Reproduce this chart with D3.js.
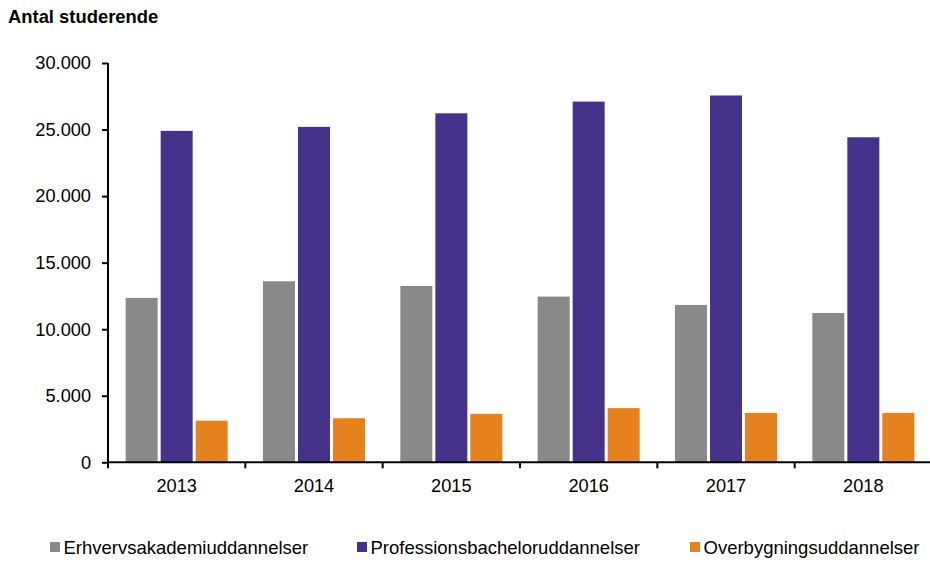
<!DOCTYPE html>
<html><head><meta charset="utf-8">
<script src="https://cdn.jsdelivr.net/npm/d3@7"></script>
<style>body{margin:0;background:#fff;} svg{display:block;font-family:"Liberation Sans",Arial,sans-serif;}</style>
</head><body>
<script>
const years = ["2013","2014","2015","2016","2017","2018"];
const seriesNames = ["Erhvervsakademiuddannelser","Professionsbacheloruddannelser","Overbygningsuddannelser"];
const erhverv = [12350, 13600, 13250, 12450, 11820, 11220];
const profession = [24900, 25200, 26220, 27100, 27560, 24420];
const overbygning = [3130, 3310, 3640, 4070, 3710, 3710];
const colors = ["#898989", "#46328a", "#e6821e"];
const yTicks = [0, 5000, 10000, 15000, 20000, 25000, 30000];
const yTickLabels = ["0", "5.000", "10.000", "15.000", "20.000", "25.000", "30.000"];
const title = "Antal studerende";

const W = 930, H = 563;
const svg = d3.select("body").append("svg").attr("width", W).attr("height", H);

const x0 = d3.scaleBand().domain(years).range([108, 932]).paddingInner(0).paddingOuter(0);
const x1 = d3.scaleBand().domain(seriesNames).range([0, x0.step()]).paddingInner(0).paddingOuter(0.462);
const y = d3.scaleLinear().domain([0, 30000]).range([462.3, 63]);

const seriesData = [erhverv, profession, overbygning];

// bars
seriesNames.forEach((s, si) => {
  svg.append("g").selectAll("rect").data(years).join("rect")
    .attr("x", d => x0(d) + x1(s) + 1.5)
    .attr("width", x1.bandwidth() - 3)
    .attr("y", (d, i) => y(seriesData[si][i]))
    .attr("height", (d, i) => y(0) - y(seriesData[si][i]))
    .attr("fill", colors[si]);
});

// y axis
const yAxis = d3.axisLeft(y).tickValues(yTicks).tickSize(6).tickPadding(11)
  .tickFormat((d, i) => yTickLabels[i]);
const gy = svg.append("g").attr("transform", "translate(108,0)").call(yAxis);
gy.select(".domain").attr("stroke", "#000").attr("stroke-width", 2).attr("d", `M0,${y(30000)}V${y(0)}`);
gy.selectAll(".tick line").attr("stroke", "#000").attr("stroke-width", 2);
gy.selectAll(".tick text").attr("font-size", 18.2).attr("font-family", "Liberation Sans, Arial, sans-serif").attr("fill", "#000");

// x axis
const gx = svg.append("g").attr("transform", `translate(0,${y(0)})`);
gx.append("line").attr("x1", 107).attr("x2", 932).attr("y1", 0).attr("y2", 0)
  .attr("stroke", "#000").attr("stroke-width", 2);
const boundaries = years.map(d => x0(d)).concat([x0(years[years.length - 1]) + x0.step()]);
gx.selectAll("line.tk").data(boundaries).join("line").attr("class", "tk")
  .attr("x1", d => d).attr("x2", d => d).attr("y1", 0).attr("y2", 6)
  .attr("stroke", "#000").attr("stroke-width", 2);
gx.selectAll("text").data(years).join("text")
  .attr("x", d => x0(d) + x0.bandwidth() / 2).attr("y", 30)
  .attr("text-anchor", "middle").attr("font-size", 18.2).attr("fill", "#000")
  .text(d => d);

// title
svg.append("text").attr("x", 8).attr("y", 23).attr("font-size", 18.4).attr("font-weight", "bold")
  .attr("fill", "#000").text(title);

// legend
const legendX = [50, 357, 690];
const lg = svg.append("g");
seriesNames.forEach((s, i) => {
  lg.append("rect").attr("x", legendX[i]).attr("y", 542).attr("width", 10).attr("height", 10).attr("fill", colors[i]);
  lg.append("text").attr("x", legendX[i] + 13.5).attr("y", 554).attr("font-size", 18.5).attr("fill", "#000").text(s);
});
</script>
</body></html>
